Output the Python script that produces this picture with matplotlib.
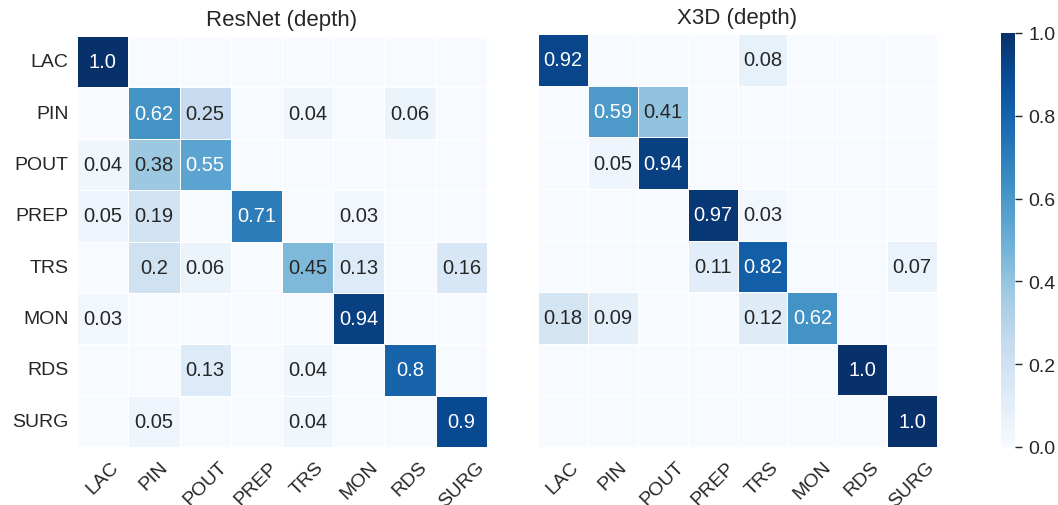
import numpy as np
import matplotlib
matplotlib.use("Agg")
import matplotlib.pyplot as plt
import seaborn as sns

labels = ["LAC", "PIN", "POUT", "PREP", "TRS", "MON", "RDS", "SURG"]

resnet_values = [
    [1.0, 0, 0, 0, 0, 0, 0, 0],
    [0, 0.62, 0.25, 0, 0.04, 0, 0.06, 0],
    [0.04, 0.38, 0.55, 0, 0, 0, 0, 0],
    [0.05, 0.19, 0, 0.71, 0, 0.03, 0, 0],
    [0, 0.2, 0.06, 0, 0.45, 0.13, 0, 0.16],
    [0.03, 0, 0, 0, 0, 0.94, 0, 0],
    [0, 0, 0.13, 0, 0.04, 0, 0.8, 0],
    [0, 0.05, 0, 0, 0.04, 0, 0, 0.9],
]

x3d_values = [
    [0.92, 0, 0, 0, 0.08, 0, 0, 0],
    [0, 0.59, 0.41, 0, 0, 0, 0, 0],
    [0, 0.05, 0.94, 0, 0, 0, 0, 0],
    [0, 0, 0, 0.97, 0.03, 0, 0, 0],
    [0, 0, 0, 0.11, 0.82, 0, 0, 0.07],
    [0.18, 0.09, 0, 0, 0.12, 0.62, 0, 0],
    [0, 0, 0, 0, 0, 0, 1.0, 0],
    [0, 0, 0, 0, 0, 0, 0, 1.0],
]

cbar_ticks = [0.0, 0.2, 0.4, 0.6, 0.8, 1.0]
titles = ["ResNet (depth)", "X3D (depth)"]

sns.set_theme(style="white")
plt.rcParams['font.family'] = ['Liberation Sans', 'DejaVu Sans']
plt.rcParams['text.color'] = '#262626'

fig = plt.figure(figsize=(10.58, 5.06), dpi=100)
ax1 = fig.add_axes([77/1058, 1 - 448/506, 410/1058, 411/506])
ax2 = fig.add_axes([538/1058, 1 - 448/506, 399/1058, 413/506])
cax = fig.add_axes([1001/1058, 1 - 448/506, 14/1058, 414/506])

def annot_of(vals):
    return np.array([["" if v == 0 else str(v) for v in row] for row in vals])

for i, (ax, vals, title) in enumerate(zip([ax1, ax2], [resnet_values, x3d_values], titles)):
    arr = np.array(vals, dtype=float)
    sns.heatmap(arr, ax=ax, cmap="Blues", vmin=0, vmax=1,
                annot=annot_of(vals), fmt="", annot_kws={"fontsize": 14.5},
                linewidths=0.6, linecolor="white",
                cbar=(i == 1), cbar_ax=cax if i == 1 else None,
                xticklabels=labels, yticklabels=labels if i == 0 else False)
    ax.set_title(title, fontsize=16, pad=8)
    ax.tick_params(axis="x", labelsize=14, rotation=45, length=0, pad=8)
    ax.tick_params(axis="y", labelsize=14, rotation=0, length=0, pad=6)
    for t in ax.get_xticklabels():
        t.set_ha("center")
        t.set_rotation_mode("default")

cax.set_yticks(cbar_ticks)
cax.set_yticklabels([f"{t:.1f}" for t in cbar_ticks])
cax.yaxis.set_tick_params(which="major", right=True, length=5, width=1,
                          color="#262626", labelsize=14, pad=4.5)
for s in cax.spines.values():
    s.set_visible(False)

fig.savefig("out.png", dpi=100)
